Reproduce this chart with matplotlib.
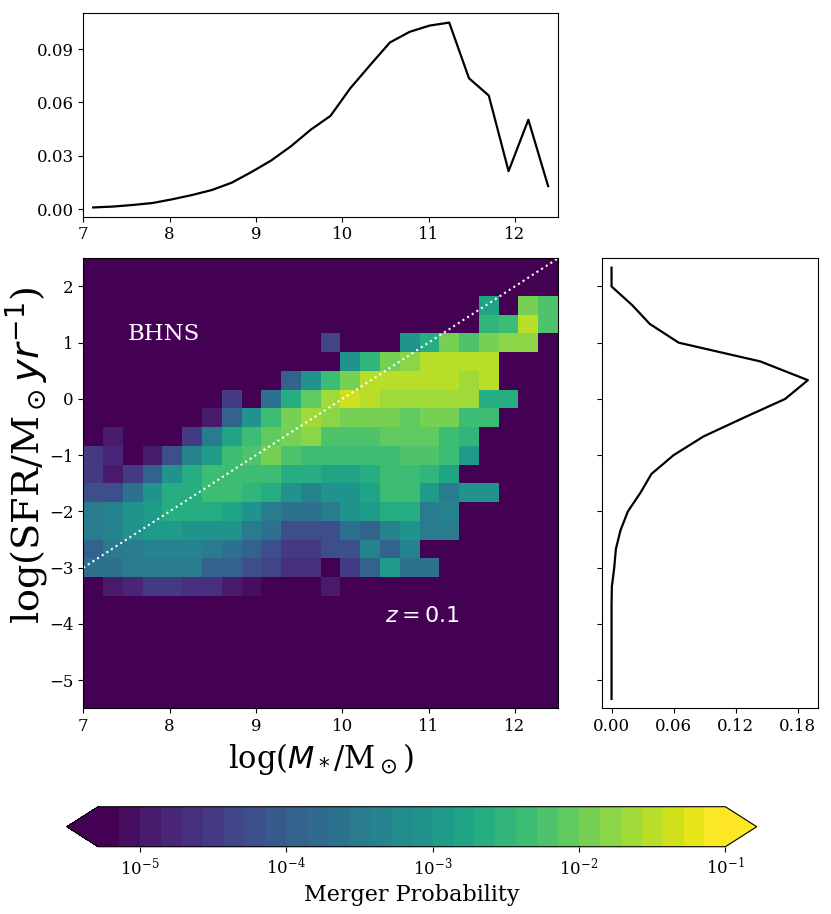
import numpy as np
import matplotlib
matplotlib.use('Agg')
import matplotlib.pyplot as plt
from matplotlib.colors import BoundaryNorm

plt.rcParams['font.family'] = 'serif'

# bin edges of the 2D merger probability histogram
mass_edges = np.linspace(7, 12.5, 25)
sfr_edges = np.linspace(-5.5, 2.5, 25)

# log10(merger probability) per cell, rows from top (high SFR) to bottom
N = None
log_prob = [
    [N] * 24,
    [N] * 24,
    [N]*20 + [-2.78, N, -1.86, -2.16],
    [N]*20 + [-2.54, -2.29, -1.56, -2.16],
    [N]*12 + [-4.34, N, N, N, -3.14, -2.71, -1.86, -2.16, -1.86, -1.73, -1.73, N],
    [N]*13 + [-3.14, -2.54, -1.86, -1.73, -1.43, -1.43, -1.56, -1.56, N, N, N],
    [N]*10 + [-3.96, -3.01, -2.33, -1.86, -1.43, -1.43, -1.56, -1.56, -1.56, -1.6, -1.43, N, N, N],
    [N]*7 + [-4.51, N, -3.70, -2.63, -2.07, -1.6, -1.39, -1.56, -1.69, -1.69, -1.69, -1.69, -1.69, -2.71, -2.71, N, N],
    [N]*6 + [-4.86, -3.87, -3.06, -2.33, -1.86, -1.69, -1.73, -1.86, -1.86, -1.86, -2.07, -1.86, -1.86, -2.33, -2.41, N, N, N],
    [-5.2, -4.94, N, N, N, -4.56, -3.57, -2.82, -2.29, -2.07, -1.86, -1.8, -2.2, -2.2, -2.2, -2.1, -2.07, -2.07, -2.33, -2.54, N, N, N, N],
    [-4.43, -4.73, N, -4.94, -4.21, -3.40, -2.97, -2.41, -2.16, -1.96, -2.16, -2.33, -2.41, -2.41, -2.41, -2.29, -2.16, -2.16, -2.41, -3.0, N, N, N, N],
    [-4.43, -4.86, -4.56, -3.87, -3.14, -2.63, -2.33, -2.33, -2.29, -2.33, -2.71, -2.63, -2.84, -2.84, -2.61, -2.33, -2.29, -2.54, -2.78, N, N, N, N, N],
    [-4.21, -4.21, -3.7, -3.14, -2.71, -2.71, -2.41, -2.41, -2.54, -2.71, -3.06, -3.4, -3.14, -3.14, -2.84, -2.41, -2.41, -2.97, -3.57, -3.06, -3.06, N, N, N],
    [-3.57, -3.4, -3.14, -2.89, -2.71, -2.63, -2.71, -2.84, -3.14, -3.57, -3.7, -3.7, -3.57, -3.14, -2.97, -2.71, -2.71, -3.57, -3.4, N, N, N, N, N],
    [-3.57, -3.4, -3.14, -2.97, -2.89, -3.06, -3.06, -3.14, -3.57, -3.7, -4.21, -4.25, -4.17, -3.7, -3.87, -3.36, -3.06, -3.57, -3.57, N, N, N, N, N],
    [-3.87, -3.57, -3.57, -3.4, -3.4, -3.4, -3.57, -3.7, -4.0, -4.21, -4.43, -4.47, -4.21, -4.21, -3.4, -3.87, -3.4, N, N, N, N, N, N, N],
    [-3.7, -3.7, -3.57, -3.57, -3.57, -3.57, -3.87, -4.0, -4.21, -4.34, -4.6, -4.7, N, -4.43, -3.96, -3.0, -3.65, -3.65, N, N, N, N, N, N],
    [-5.2, -5.0, -4.75, -4.56, -4.43, -4.69, -4.69, -4.94, -5.1, N, N, N, -4.94, N, N, N, N, N, N, N, N, N, N, N],
    [N] * 24,
    [N] * 24,
    [N] * 24,
    [N] * 24,
    [N] * 24,
    [N] * 24,
]

# marginal distributions (top: stellar mass, side: SFR from bottom to top)
mass_marginal = [0.0010, 0.0015, 0.0024, 0.0035, 0.0056, 0.0080, 0.0108, 0.0149,
                 0.0209, 0.0274, 0.0354, 0.0447, 0.0525, 0.0680, 0.0810, 0.0937,
                 0.0997, 0.1032, 0.1049, 0.0736, 0.0639, 0.0214, 0.0503, 0.0130]
sfr_marginal = [0, 0, 0, 0, 0, 0, 0.0003, 0.0026, 0.0042, 0.0087, 0.0158, 0.028,
                0.0386, 0.060, 0.089, 0.128, 0.168, 0.190, 0.144, 0.065, 0.037,
                0.020, 0, 0]

cbar_ticks = [1e-5, 1e-4, 1e-3, 1e-2, 1e-1]
cbar_labels = [r'$\mathdefault{10^{-5}}$', r'$\mathdefault{10^{-4}}$', r'$\mathdefault{10^{-3}}$',
               r'$\mathdefault{10^{-2}}$', r'$\mathdefault{10^{-1}}$']

arr = np.array(log_prob, dtype=float)[::-1]
prob = np.where(np.isnan(arr), 0.0, 10 ** arr)
mass_centers = 0.5 * (mass_edges[1:] + mass_edges[:-1])
sfr_centers = 0.5 * (sfr_edges[1:] + sfr_edges[:-1])

levels = 10 ** (np.arange(-37, -6) / 7)
norm = BoundaryNorm(levels, ncolors=256)

fig = plt.figure(figsize=(8.31, 9.14), dpi=100)
ax_top = fig.add_axes([0.1002, 0.7629, 0.5713, 0.2225])
ax_main = fig.add_axes([0.1002, 0.2250, 0.5713, 0.4924])
ax_side = fig.add_axes([0.7241, 0.2250, 0.2599, 0.4924])
cax = fig.add_axes([0.0803, 0.0736, 0.8303, 0.0438])

# main panel
mesh = ax_main.pcolormesh(mass_edges, sfr_edges, prob, cmap='viridis', norm=norm)
line_x = np.array([7, 12.5])
ax_main.plot(line_x, line_x - 10, ':', color='white', lw=1.5)
ax_main.text(7.51, 1.15, 'BHNS', color='white', fontsize=16.5, va='center')
ax_main.text(10.5, -3.85, r'$z = 0.1$', color='white', fontsize=16, va='center')
ax_main.set_xlim(7, 12.5)
ax_main.set_ylim(-5.5, 2.5)
ax_main.set_xticks([7, 8, 9, 10, 11, 12])
ax_main.set_yticks([-5, -4, -3, -2, -1, 0, 1, 2])
ax_main.set_xlabel(r'log($M_*$/M$_\odot$)', fontsize=22)
ax_main.set_ylabel(r'log(SFR/M$_\odot yr^{-1}$)', fontsize=27.5)
ax_main.yaxis.set_label_coords(-0.068, 0.563)
ax_main.tick_params(labelsize=12)

# top marginal
ax_top.plot(mass_centers, mass_marginal, color='black', lw=1.6)
ax_top.set_xlim(7, 12.5)
ax_top.set_xticks([7, 8, 9, 10, 11, 12])
ax_top.set_yticks([0, 0.03, 0.06, 0.09])
ax_top.set_yticklabels(['0.00', '0.03', '0.06', '0.09'])
ax_top.tick_params(labelsize=12)

# side marginal
ax_side.plot(sfr_marginal, sfr_centers, color='black', lw=1.6)
ax_side.set_ylim(-5.5, 2.5)
ax_side.set_yticks([-5, -4, -3, -2, -1, 0, 1, 2])
ax_side.set_yticklabels([])
ax_side.set_xticks([0, 0.06, 0.12, 0.18])
ax_side.set_xticklabels(['0.00', '0.06', '0.12', '0.18'])
ax_side.tick_params(labelsize=12)

# colorbar
cb = fig.colorbar(mesh, cax=cax, orientation='horizontal', extend='both', ticks=cbar_ticks)
cb.set_ticklabels(cbar_labels)
cb.minorticks_off()
cb.ax.tick_params(labelsize=12)
cb.set_label('Merger Probability', fontsize=16)

fig.savefig('out.png', dpi=100)
